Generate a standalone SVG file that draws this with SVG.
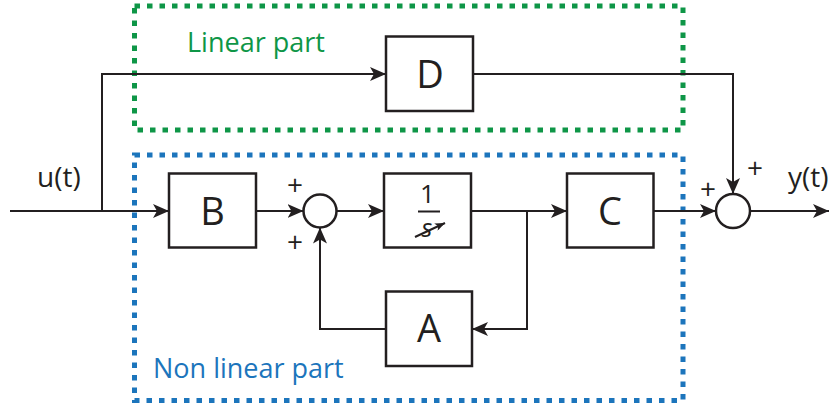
<svg xmlns="http://www.w3.org/2000/svg" width="831" height="412" viewBox="0 0 831 412">
  <defs>
    <style>
      .blk { fill: #ffffff; stroke: #231f20; stroke-width: 2.5; }
      .sum { fill: #ffffff; stroke: #231f20; stroke-width: 2.5; }
      .wire { fill: none; stroke: #231f20; stroke-width: 2; }
      .lbl { font-family: "Open Sans", "Noto Sans", sans-serif; fill: #231f20; }
      .big { font-size: 38px; text-anchor: middle; }
      .sig { font-size: 28px; }
      .pm { font-size: 28px; text-anchor: middle; }
      .zone { fill: none; stroke-width: 5; stroke-dasharray: 5.5 7; }
    </style>
    <marker id="arr" viewBox="0 0 16 14" refX="16" refY="7" markerWidth="16" markerHeight="14" markerUnits="userSpaceOnUse" orient="auto">
      <path d="M0,0 L16,7 L0,14 L4,7 Z" fill="#231f20"/>
    </marker>
    <marker id="arrs" viewBox="0 0 10 8" refX="10" refY="4" markerWidth="10" markerHeight="8" markerUnits="userSpaceOnUse" orient="auto">
      <path d="M0,0 L10,4 L0,8 L2.5,4 Z" fill="#231f20"/>
    </marker>
  </defs>

  <g id="linear-part">
    <rect class="zone" x="134.5" y="6" width="548.5" height="124" stroke="#0e9647"/>
    <text x="187" y="52" font-family="Open Sans, Noto Sans, sans-serif" font-size="27" fill="#0e9647">Linear part</text>
  </g>
  <g id="nonlinear-part">
    <rect class="zone" x="134.5" y="155" width="548.5" height="245.5" stroke="#1c75bc"/>
    <text x="153" y="378" font-family="Open Sans, Noto Sans, sans-serif" font-size="27" fill="#1c75bc">Non linear part</text>
  </g>

  <g id="connectors">
    <path class="wire" d="M10,211 H169" marker-end="url(#arr)"/>
    <path class="wire" d="M102,211 V74 H386" marker-end="url(#arr)"/>
    <path class="wire" d="M256,211 H303.5" marker-end="url(#arr)"/>
    <path class="wire" d="M336.5,211 H384" marker-end="url(#arr)"/>
    <path class="wire" d="M471,211 H567" marker-end="url(#arr)"/>
    <path class="wire" d="M527,211 V329 H472" marker-end="url(#arr)"/>
    <path class="wire" d="M386,329 H320 V227.5" marker-end="url(#arr)"/>
    <path class="wire" d="M653,211 H716" marker-end="url(#arr)"/>
    <path class="wire" d="M473,74 H733 V194" marker-end="url(#arr)"/>
    <path class="wire" d="M750,211 H829" marker-end="url(#arr)"/>
  </g>

  <g id="input-label">
    <text class="lbl sig" x="37" y="187">u(t)</text>
  </g>
  <g id="output-label">
    <text class="lbl sig" x="788" y="187">y(t)</text>
  </g>

  <g id="block-D">
    <rect class="blk" x="386" y="36.5" width="87" height="74.5"/>
    <text class="lbl big" x="430" y="88">D</text>
  </g>
  <g id="block-B">
    <rect class="blk" x="169" y="173.5" width="87" height="74"/>
    <text class="lbl big" x="212.5" y="225">B</text>
  </g>
  <g id="block-integrator">
    <rect class="blk" x="384" y="173.5" width="87" height="74"/>
    <text class="lbl" x="427.5" y="203" font-size="26" text-anchor="middle">1</text>
    <line x1="418" y1="211.5" x2="440" y2="211.5" stroke="#231f20" stroke-width="2"/>
    <text class="lbl" x="427" y="237" font-size="25" font-style="italic" text-anchor="middle">s</text>
    <line x1="415" y1="237" x2="445" y2="223" stroke="#231f20" stroke-width="2" marker-end="url(#arrs)"/>
  </g>
  <g id="block-C">
    <rect class="blk" x="567" y="173.5" width="86.5" height="74"/>
    <text class="lbl big" x="610" y="225">C</text>
  </g>
  <g id="block-A">
    <rect class="blk" x="386" y="291.5" width="86" height="74.5"/>
    <text class="lbl big" x="429" y="342">A</text>
  </g>

  <g id="sum-1">
    <circle class="sum" cx="320" cy="211" r="16.5"/>
    <text class="lbl pm" x="295" y="195">+</text>
    <text class="lbl pm" x="295" y="252">+</text>
  </g>
  <g id="sum-2">
    <circle class="sum" cx="733" cy="211" r="17"/>
    <text class="lbl pm" x="708" y="199">+</text>
    <text class="lbl pm" x="755" y="178">+</text>
  </g>
</svg>
